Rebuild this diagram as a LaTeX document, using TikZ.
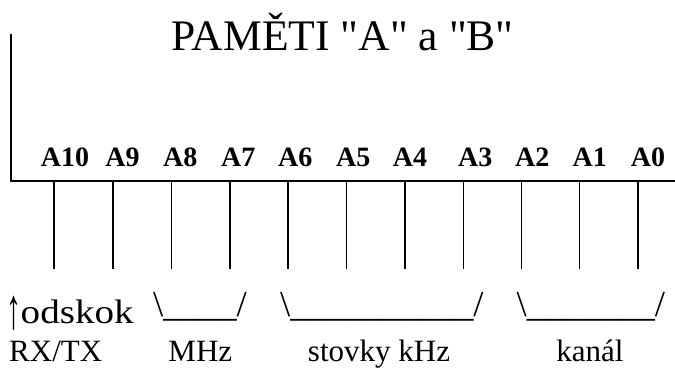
\documentclass[tikz,border=0pt]{standalone}
\usepackage{fontspec}
\setmainfont{Liberation Serif}
\newfontfamily\plainserif{Liberation Serif}
\begin{document}
\begin{tikzpicture}[x=1pt,y=-1pt,
  frame/.style={line width=2pt},
  tick/.style={line width=1.7pt},
  lbl/.style={inner sep=0pt,anchor=base,font=\fontsize{28}{30}\selectfont\bfseries},
  txt/.style={inner sep=0pt,font=\fontsize{31}{34}\selectfont},
  brk/.style={inner sep=0pt,anchor=base west,font=\fontsize{36.6}{40}\selectfont}]
\useasboundingbox (0,0) rectangle (675,367);
% title
\node[inner sep=0pt,anchor=base west,font=\plainserif\fontsize{43.6}{48}\selectfont] (title) at (171.5,50.7) {PAMĚTI "A" a "B"};
% frame
\coordinate (ftop) at (11,34);
\coordinate (fcorner) at (11,181);
\coordinate (fright) at (676,181);
\draw[frame] (ftop) -- (fcorner) -- (fright);
% ticks
\foreach \i/\x in {10/54.3,9/113,8/171.6,7/229.8,6/288.2,5/346.6,4/405,3/463.4,2/521.4,1/579.6,0/638.2}{
  \coordinate (t\i) at (\x,181);
  \coordinate (b\i) at (\x,269);
  \draw[tick] (t\i) -- (b\i);
}
% bit labels
\foreach \i/\x in {10/65,9/122.5,8/180.2,7/238.3,6/295.3,5/353.2,4/410,3/475.2,2/532.2,1/589.8,0/648}{
  \node[lbl] (l\i) at (\x,166) {A\i};
}
% lower texts
\node[inner sep=0pt,anchor=south west] (arrow) at (6,330) {\resizebox*{15pt}{34pt}{↑}};
\node[txt,anchor=base west,font=\fontsize{34}{38}\selectfont] (odskok) at (20.5,323.5) {\scalebox{1.15}[1]{odskok}};
\node[brk] (bMHz) at (153,316) {\textbackslash\_\_\_\_/};
\node[brk] (bkHz) at (280,316) {\textbackslash\_\_\_\_\_\_\_\_\_\_/};
\node[brk] (bkan) at (516.5,316) {\textbackslash\_\_\_\_\_\_\_/};
\node[txt,anchor=base west] (rxtx) at (9,361) {RX/TX};
\node[txt,anchor=base] (mhz) at (200.3,361) {MHz};
\node[txt,anchor=base] (khz) at (379,361) {stovky kHz};
\node[txt,anchor=base] (kanal) at (590,361) {kanál};
\end{tikzpicture}
\end{document}
